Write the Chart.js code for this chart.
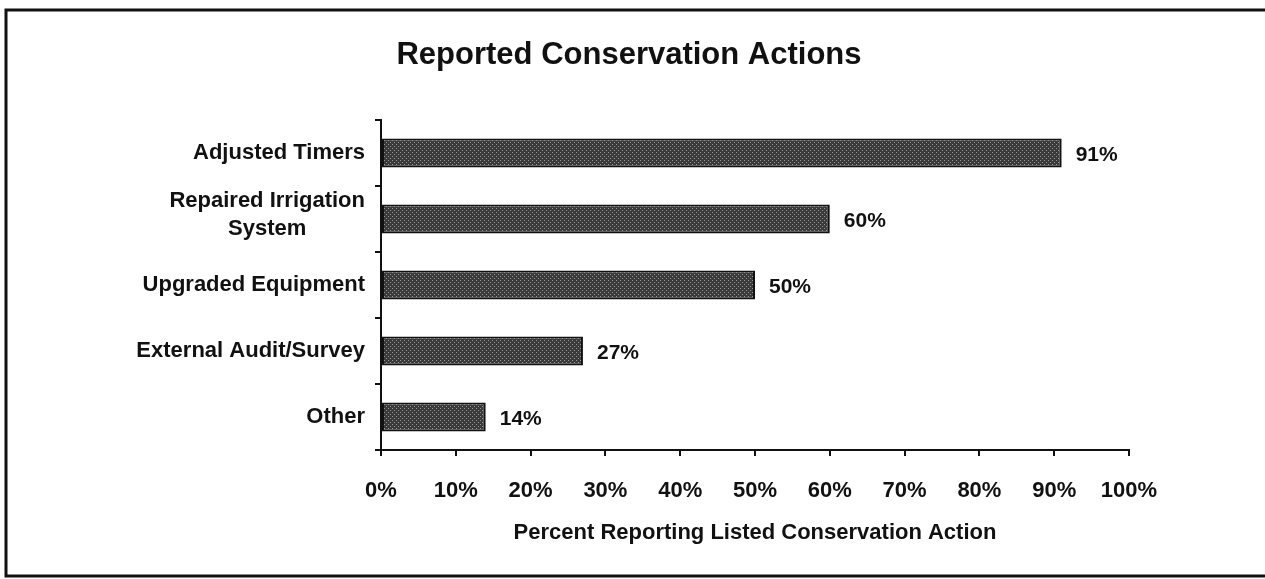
<!DOCTYPE html>
<html>
<head>
<meta charset="utf-8">
<title>Reported Conservation Actions</title>
<script src="https://cdn.jsdelivr.net/npm/chart.js@4"></script>
<style>
    html, body { margin: 0; padding: 0; background: #fff; }
    #wrap { width: 1265px; height: 579px; }
</style>
</head>
<body>
<div id="wrap"><canvas id="chart" width="1265" height="579"></canvas></div>
<script>
// Survey answers, one entry per category
const actions = [
    ['Adjusted Timers'],
    ['Repaired Irrigation', 'System'],
    ['Upgraded Equipment'],
    ['External Audit/Survey'],
    ['Other']
];
const percentReporting = [91, 60, 50, 27, 14];
const tickValues = [0, 10, 20, 30, 40, 50, 60, 70, 80, 90, 100];
const chartTitle = 'Reported Conservation Actions';

const FONT = '"Liberation Sans", Arial, sans-serif';

// Dotted dark fill used on the bars
function makeHatch() {
    const c = document.createElement('canvas');
    c.width = 4;
    c.height = 4;
    const g = c.getContext('2d');
    g.fillStyle = '#3a3a3a';
    g.fillRect(0, 0, 4, 4);
    g.fillStyle = '#999';
    g.fillRect(0, 0, 1, 1);
    g.fillRect(2, 2, 1, 1);
    return document.getElementById('chart').getContext('2d').createPattern(c, 'repeat');
}

// White page, box frame and the heading
const framePlugin = {
    id: 'frame',
    beforeDraw(chart) {
        const ctx = chart.ctx;
        ctx.save();
        ctx.fillStyle = '#fff';
        ctx.fillRect(0, 0, chart.width, chart.height);
        ctx.strokeStyle = '#111';
        ctx.lineWidth = 3;
        ctx.beginPath();
        ctx.moveTo(chart.width + 5, 10);
        ctx.lineTo(6, 10);
        ctx.lineTo(6, 576);
        ctx.lineTo(chart.width + 5, 576);
        ctx.stroke();

        ctx.font = 'bold 31px ' + FONT;
        ctx.fillStyle = '#111';
        ctx.textAlign = 'center';
        ctx.textBaseline = 'middle';
        ctx.fillText(chartTitle, 629, 55);
        ctx.restore();
    }
};

// Category names, right aligned; wrapped names centred on their widest line
const categoryLabels = {
    id: 'categoryLabels',
    afterDraw(chart) {
        const ctx = chart.ctx;
        const y = chart.scales.y;
        const rightEdge = 365;
        const lineGap = 28;
        ctx.save();
        ctx.font = 'bold 22px ' + FONT;
        ctx.fillStyle = '#111';
        ctx.textBaseline = 'middle';
        ctx.textAlign = 'center';
        actions.forEach((lines, i) => {
            const cy = y.getPixelForValue(i) - (lines.length > 1 ? 4 : 0);
            const widest = Math.max(...lines.map(l => ctx.measureText(l).width));
            const cx = rightEdge - widest / 2;
            const top = cy - (lines.length - 1) * lineGap / 2;
            lines.forEach((l, k) => ctx.fillText(l, cx, top + k * lineGap));
        });
        ctx.restore();
    }
};

// Percentage printed past the end of each bar
const valueLabels = {
    id: 'valueLabels',
    afterDatasetsDraw(chart) {
        const ctx = chart.ctx;
        const meta = chart.getDatasetMeta(0);
        ctx.save();
        ctx.font = 'bold 21px ' + FONT;
        ctx.fillStyle = '#111';
        ctx.textAlign = 'left';
        ctx.textBaseline = 'middle';
        meta.data.forEach((bar, i) => {
            ctx.fillText(percentReporting[i] + '%', bar.x + 14, bar.y + 2);
        });
        ctx.restore();
    }
};

new Chart(document.getElementById('chart'), {
    type: 'bar',
    data: {
        labels: actions,
        datasets: [{
            data: percentReporting,
            backgroundColor: makeHatch(),
            borderColor: '#111',
            borderWidth: 2,
            borderSkipped: false,
            barPercentage: 0.88,
            categoryPercentage: 0.5
        }]
    },
    options: {
        indexAxis: 'y',
        responsive: false,
        animation: false,
        layout: { padding: { left: 0, right: 136, top: 120, bottom: 0 } },
        plugins: {
            legend: { display: false },
            tooltip: { enabled: false },
            title: { display: false }
        },
        scales: {
            x: {
                min: 0,
                max: 100,
                afterBuildTicks(scale) {
                    scale.ticks = tickValues.map(v => ({ value: v }));
                },
                afterFit(scale) { scale.height = 129; },
                border: { display: true, color: '#111', width: 2 },
                grid: { drawOnChartArea: false, drawTicks: true, tickLength: 6, color: '#111', lineWidth: 2 },
                ticks: {
                    padding: 22,
                    color: '#111',
                    maxRotation: 0,
                    font: { family: FONT, size: 22, weight: 'bold' },
                    callback: v => v + '%'
                },
                title: {
                    display: true,
                    text: 'Percent Reporting Listed Conservation Action',
                    color: '#111',
                    font: { family: FONT, size: 22, weight: 'bold', lineHeight: 1.2 },
                    padding: { top: 0, bottom: 33 }
                }
            },
            y: {
                afterFit(scale) { scale.width = 381; },
                border: { display: true, color: '#111', width: 2 },
                grid: { drawOnChartArea: false, drawTicks: true, tickLength: 6, color: '#111', lineWidth: 2, offset: true },
                ticks: { display: false }
            }
        }
    },
    plugins: [framePlugin, categoryLabels, valueLabels]
});
</script>
</body>
</html>
